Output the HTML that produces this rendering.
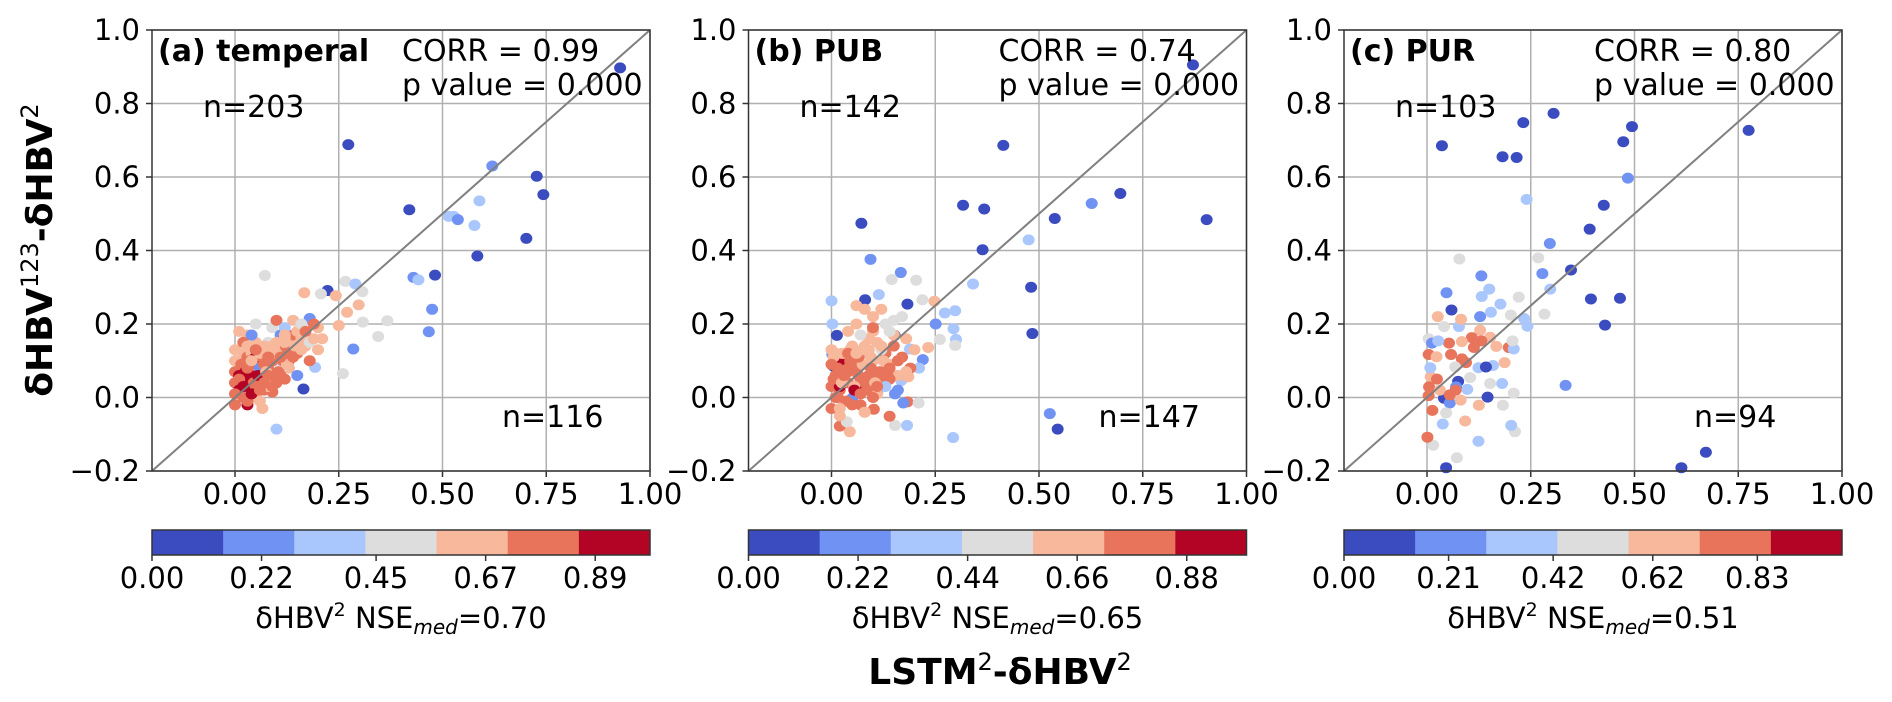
<!DOCTYPE html>
<html><head><meta charset="utf-8">
<style>
html,body{margin:0;padding:0;background:#fff;}
svg{display:block;font-family:"DejaVu Sans","Liberation Sans",sans-serif;}
</style></head>
<body>
<svg id="fig" width="1892" height="702" viewBox="0 0 1892 702" xmlns="http://www.w3.org/2000/svg">
<text transform="translate(52,250) rotate(-90)" text-anchor="middle" font-weight="bold" font-size="36">δHBV<tspan font-weight="normal" font-size="24" dy="-14">123</tspan><tspan dy="14">-δHBV</tspan><tspan font-weight="normal" font-size="24" dy="-14">2</tspan></text>
<text x="1000" y="684" text-anchor="middle" font-weight="bold" font-size="36">LSTM<tspan font-weight="normal" font-size="24" dy="-14">2</tspan><tspan dy="14">-δHBV</tspan><tspan font-weight="normal" font-size="24" dy="-14">2</tspan></text>
</svg>
<script>
// ---- data ----
// NSE classes: dark-blue 0.07, mid-blue 0.2, light-blue 0.35, gray 0.5, salmon 0.65, coral 0.78, crimson 0.93
const xA=[0.273,0.62,0.727,0.743,0.42,0.515,0.527,0.537,0.589,0.577,0.702,0.584,0.43,0.442,0.482,0.475,0.467,0.285,0.165,0.345,0.367,0.308,0.26,0.072,0.223,0.266,0.29,0.307,0.207,0.167,0.243,0.298,0.27,0.18,0.25,0.193,0.928,0.1,0.0,0.03,0.066,0.09,
0.0,0.01,0.0,0.0,0.01,0.02,0.03,0.04,0.05,0.02,0.03,0.01,0.05,0.06,0.07,0.08,0.09,0.1,0.11,0.12,0.13,0.14,0.15,0.16,0.17,0.18,0.19,0.20,0.18,0.13,0.12,0.06,0.07,0.05,0.03,0.06,0.04,0.08,0.09,0.11,0.1,0.14,0.05,0.04,0.06,0.02,0.03,0.07,0.09,0.12,0.16,0.15,0.13,0.11,0.1,0.08,0.15,0.02,0.0,0.04,0.19,0.2,0.21,0.1,0.05,0.07,0.12,0.17,0.13,0.08,0.01,0.03,0.02,0.06,0.04,0.09,
0.015,0.025,0.035,0.045,0.055,0.065,0.075,0.085,0.095,0.105,0.115,0.125,0.135,0.145,0.01,0.02,0.03,0.04,0.05,0.06,0.07,0.08,0.09,0.1,0.11,0.12,0.02,0.04,0.06,0.08,0.1,0.12,0.14,0.16,0.0,0.03,0.05,0.07,0.09,0.11];
const yA=[0.688,0.63,0.602,0.552,0.511,0.493,0.493,0.484,0.535,0.468,0.433,0.385,0.327,0.32,0.333,0.24,0.179,0.132,0.023,0.166,0.209,0.205,0.065,0.332,0.291,0.316,0.309,0.288,0.282,0.285,0.277,0.252,0.232,0.215,0.196,0.082,0.897,-0.086,-0.02,-0.02,-0.03,0.015,
0.13,0.10,0.07,0.04,0.02,0.05,0.03,0.06,0.09,0.12,0.17,0.18,0.15,0.13,0.11,0.08,0.06,0.1,0.13,0.12,0.15,0.17,0.18,0.16,0.14,0.15,0.16,0.19,0.1,0.08,0.05,0.04,0.02,0.0,-0.01,-0.01,0.02,0.15,0.19,0.17,0.21,0.21,0.2,0.17,0.08,0.08,0.11,0.06,0.12,0.19,0.2,0.12,0.1,0.08,0.04,0.03,0.06,0.15,0.1,0.12,0.2,0.13,0.16,0.14,0.11,0.09,0.16,0.18,0.13,0.12,0.06,0.08,0.0,0.05,0.1,0.03,
0.09,0.07,0.1,0.04,0.06,0.11,0.07,0.1,0.13,0.07,0.1,0.09,0.12,0.14,0.05,0.03,0.08,0.1,0.03,0.12,0.14,0.06,0.1,0.12,0.06,0.15,0.0,0.01,0.02,0.11,0.15,0.17,0.11,0.13,0.01,0.14,0.13,0.04,0.14,0.11];
const cA=[0.07,0.2,0.07,0.07,0.07,0.35,0.35,0.2,0.35,0.35,0.07,0.07,0.2,0.35,0.07,0.2,0.2,0.2,0.07,0.5,0.5,0.5,0.5,0.5,0.07,0.5,0.35,0.5,0.5,0.65,0.65,0.65,0.65,0.2,0.65,0.35,0.07,0.35,0.78,0.93,0.65,0.78,
0.65,0.78,0.78,0.78,0.93,0.93,0.93,0.93,0.78,0.65,0.65,0.65,0.65,0.78,0.78,0.78,0.78,0.78,0.65,0.78,0.65,0.78,0.65,0.65,0.65,0.5,0.65,0.65,0.78,0.65,0.78,0.78,0.78,0.65,0.78,0.65,0.93,0.5,0.5,0.2,0.78,0.65,0.5,0.2,0.2,0.78,0.78,0.07,0.65,0.35,0.5,0.78,0.78,0.5,0.78,0.65,0.2,0.78,0.65,0.65,0.78,0.65,0.65,0.78,0.93,0.78,0.65,0.78,0.78,0.65,0.93,0.93,0.78,0.65,0.93,0.78,
0.78,0.93,0.78,0.78,0.93,0.78,0.65,0.78,0.65,0.78,0.78,0.65,0.78,0.65,0.78,0.93,0.78,0.65,0.78,0.65,0.65,0.78,0.78,0.65,0.78,0.65,0.78,0.93,0.78,0.78,0.65,0.65,0.78,0.65,0.78,0.65,0.78,0.78,0.65,0.78];

const xB=[0.871,0.414,0.696,0.627,0.317,0.368,0.538,0.904,0.072,0.475,0.364,0.094,0.341,0.481,0.484,0.526,0.545,0.293,0.167,0.204,0.145,0.0,0.081,0.114,0.183,0.219,0.248,0.273,0.298,0.251,0.294,0.3,0.298,0.22,0.211,0.183,0.21,0.182,0.153,0.14,0.102,0.044,0.02,0.037,0.173,0.153,0.11,0.05,0.013,0.002,0.004,0.002,0.152,0.261,0.233,0.189,0.168,0.185,0.097,
0.0,0.01,0.02,0.03,0.04,0.05,0.06,0.07,0.08,0.09,0.1,0.11,0.12,0.13,0.14,0.15,0.16,0.17,0.18,0.19,0.2,0.0,0.02,0.04,0.06,0.08,0.1,0.12,0.14,0.16,0.18,0.01,0.03,0.05,0.07,0.09,0.11,0.13,0.15,0.17,0.0,0.02,0.04,0.06,0.08,0.1,0.12,0.14,0.03,0.05,0.07,0.09,0.11,0.06,0.08,0.04,0.12,0.15,0.1,0.13,0.02,0.07,0.16,
0.005,0.015,0.025,0.035,0.045,0.055,0.065,0.075,0.085,0.095,0.105,0.115,0.125,0.135,0.005,0.015,0.025,0.035,0.045,0.055,0.065,0.075,0.085,0.095,0.0,0.01,0.02,0.03,0.04,0.05,0.06,0.07,0.08,0.09,0.1,0.11,0.12,0.14,0.16,0.18];
const yB=[0.905,0.686,0.555,0.528,0.523,0.513,0.487,0.484,0.474,0.429,0.402,0.376,0.309,0.3,0.174,-0.044,-0.086,-0.109,0.34,0.319,0.321,0.263,0.266,0.28,0.254,0.266,0.262,0.23,0.236,0.2,0.187,0.158,0.142,0.103,0.08,-0.012,-0.015,-0.076,-0.076,-0.051,-0.032,-0.093,-0.078,-0.066,-0.015,0.01,0.013,-0.002,0.169,0.2,0.086,0.117,0.169,0.158,0.136,0.132,0.046,0.056,0.038,
0.13,0.06,0.02,0.1,0.04,0.14,0.08,0.03,0.12,0.06,0.1,0.15,0.07,0.12,0.09,0.14,0.06,0.11,0.16,0.08,0.13,0.03,0.1,0.07,0.02,0.14,0.18,0.04,0.05,0.1,0.06,0.0,0.12,0.09,-0.02,0.16,0.05,0.2,0.17,0.22,-0.03,-0.05,0.18,0.2,0.24,0.22,0.13,0.18,0.06,0.11,0.17,0.04,0.01,0.25,-0.04,0.08,0.24,0.21,0.19,0.03,0.03,0.05,0.02,
0.05,0.08,0.04,0.07,0.1,0.03,0.06,0.09,0.05,0.08,0.04,0.07,0.1,0.06,0.11,0.0,0.12,-0.01,0.13,0.02,0.11,0.13,0.02,0.11,0.09,0.12,-0.03,0.06,0.12,-0.02,0.12,0.01,-0.04,0.13,0.0,0.03,0.14,0.08,0.1,0.07];
const cB=[0.07,0.07,0.07,0.2,0.07,0.07,0.07,0.07,0.07,0.35,0.07,0.2,0.35,0.07,0.07,0.2,0.07,0.35,0.2,0.5,0.5,0.35,0.07,0.35,0.07,0.5,0.65,0.35,0.35,0.2,0.35,0.35,0.5,0.2,0.35,0.78,0.5,0.35,0.5,0.78,0.78,0.65,0.78,0.5,0.2,0.2,0.07,0.2,0.07,0.35,0.07,0.2,0.07,0.5,0.65,0.35,0.35,0.65,0.65,
0.65,0.78,0.78,0.78,0.78,0.65,0.78,0.78,0.65,0.78,0.65,0.65,0.78,0.78,0.65,0.78,0.65,0.78,0.65,0.78,0.65,0.78,0.93,0.78,0.93,0.65,0.65,0.78,0.78,0.65,0.65,0.78,0.65,0.78,0.78,0.65,0.78,0.5,0.65,0.5,0.78,0.65,0.65,0.65,0.65,0.65,0.5,0.5,0.78,0.78,0.5,0.78,0.65,0.65,0.65,0.78,0.65,0.5,0.78,0.35,0.93,0.78,0.2,
0.78,0.78,0.65,0.78,0.78,0.65,0.78,0.65,0.78,0.78,0.65,0.78,0.65,0.78,0.65,0.78,0.65,0.78,0.65,0.93,0.78,0.65,0.78,0.65,0.78,0.65,0.65,0.78,0.78,0.78,0.65,0.78,0.65,0.65,0.78,0.78,0.65,0.78,0.78,0.65];

const xC=[0.305,0.232,0.494,0.775,0.036,0.473,0.182,0.216,0.484,0.24,0.426,0.392,0.296,0.347,0.278,0.078,0.268,0.131,0.15,0.132,0.047,0.059,0.128,0.154,0.177,0.221,0.297,0.283,0.202,0.234,0.242,0.395,0.465,0.429,0.334,0.672,0.613,0.046,0.072,0.015,0.001,0.124,0.212,0.203,0.092,0.125,0.183,0.209,0.146,0.181,0.097,0.041,0.055,0.038,0.046,0.013,0.004,0.075,0.07,0.152,0.159,0.124,0.142,0.187,0.197,0.209,0.206,0.128,0.152,0.108,0.084,0.053,0.026,0.041,0.077,0.082,0.004,0.012,0.004,0.023,0.058,0.084,0.068,0.009,0.024,0.005,0.031,0.104,0.094,0.113,0.027,0.008,0.167,0.131,0.069,0.055,0.081];
const yC=[0.773,0.748,0.737,0.727,0.685,0.696,0.655,0.653,0.597,0.539,0.523,0.458,0.419,0.347,0.337,0.377,0.38,0.331,0.295,0.275,0.285,0.238,0.22,0.232,0.254,0.273,0.295,0.227,0.224,0.215,0.194,0.268,0.27,0.197,0.033,-0.149,-0.191,-0.191,-0.164,-0.13,-0.108,-0.119,-0.093,-0.076,-0.064,-0.021,-0.021,0.012,0.001,0.038,0.022,-0.002,-0.015,-0.072,-0.042,-0.035,0.005,0.044,0.029,0.038,0.087,0.081,0.083,0.095,0.136,0.132,0.154,0.183,0.164,0.163,0.152,0.148,0.22,0.193,0.193,0.213,0.16,0.148,0.117,0.111,0.117,0.105,0.083,0.056,0.05,0.029,0.02,0.054,0.095,0.136,0.154,0.081,0.139,0.154,0.02,0.007,-0.007];
const cC=[0.07,0.07,0.07,0.07,0.07,0.07,0.07,0.07,0.2,0.35,0.07,0.07,0.2,0.07,0.2,0.5,0.5,0.2,0.35,0.35,0.2,0.07,0.2,0.35,0.35,0.5,0.35,0.5,0.5,0.35,0.35,0.07,0.07,0.07,0.2,0.07,0.07,0.07,0.5,0.5,0.78,0.35,0.5,0.35,0.65,0.65,0.5,0.5,0.07,0.35,0.35,0.07,0.2,0.35,0.5,0.78,0.78,0.07,0.2,0.5,0.35,0.35,0.07,0.65,0.78,0.35,0.5,0.65,0.65,0.78,0.65,0.78,0.65,0.5,0.35,0.65,0.5,0.2,0.78,0.65,0.78,0.78,0.5,0.65,0.78,0.78,0.65,0.5,0.78,0.78,0.35,0.35,0.65,0.78,0.78,0.78,0.65];

const xTicks=[0,0.25,0.5,0.75,1.0];
const xTickLabels=["0.00","0.25","0.50","0.75","1.00"];
const yTicks=[-0.2,0,0.2,0.4,0.6,0.8,1.0];
const yTickLabels=["\u22120.2","0.0","0.2","0.4","0.6","0.8","1.0"];
const cbTicksA=["0.00","0.22","0.45","0.67","0.89"];
const cbTicksB=["0.00","0.22","0.44","0.66","0.88"];
const cbTicksC=["0.00","0.21","0.42","0.62","0.83"];
const titles=["(a) temperal","(b) PUB","(c) PUR"];
const corrs=["0.99","0.74","0.80"];
const nUp=["n=203","n=142","n=103"];
const nDown=["n=116","n=147","n=94"];
const nseMed=["0.70","0.65","0.51"];

const palette=["#3b4cc0","#6f92f3","#aac7fd","#dddddd","#f7b89c","#e7745b","#b40426"];
const NS="http://www.w3.org/2000/svg";
const svg=document.getElementById('fig');
function mk(tag,attrs,parent){const e=document.createElementNS(NS,tag);for(const k in attrs)e.setAttribute(k,attrs[k]);(parent||svg).appendChild(e);return e;}
function col(v){return palette[Math.min(6,Math.floor(v*7))];}

const lefts=[152,748.5,1344];
const W=498, TOP=30, BOT=471;
const panels=[[xA,yA,cA,cbTicksA],[xB,yB,cB,cbTicksB],[xC,yC,cC,cbTicksC]];

panels.forEach((p,i)=>{
  const L=lefts[i];
  const sx=v=>L+(v+0.2)/1.2*W;
  const sy=v=>BOT-(v+0.2)/1.2*(BOT-TOP);
  const g=mk('g',{});
  
  
  xTicks.forEach((t,k)=>{
    const gl=mk('line',{x1:sx(t),x2:sx(t),y1:TOP,y2:BOT,stroke:'#b0b0b0','stroke-width':1.5},g);
    
    
    mk('line',{x1:sx(t),x2:sx(t),y1:BOT,y2:BOT+6,stroke:'#333','stroke-width':1.5},g);
    const tl=mk('text',{x:sx(t),y:504,'text-anchor':'middle','font-size':29},g);
    tl.textContent=xTickLabels[k];
    
    
  });
  yTicks.forEach((t,k)=>{
    const gl=mk('line',{x1:L,x2:L+W,y1:sy(t),y2:sy(t),stroke:'#b0b0b0','stroke-width':1.5},g);
    
    
    mk('line',{x1:L-6,x2:L,y1:sy(t),y2:sy(t),stroke:'#333','stroke-width':1.5},g);
    const tl=mk('text',{x:L-12,y:sy(t)+10,'text-anchor':'end','font-size':29},g);
    tl.textContent=yTickLabels[k];
    
    
  });
  p[0].forEach((xv,j)=>{
    const c=mk('ellipse',{cx:sx(xv),cy:sy(p[1][j]),rx:6,ry:5.5,fill:col(p[2][j])},g);
    
    
  });
  const d=mk('line',{x1:sx(-0.2),y1:sy(-0.2),x2:sx(1),y2:sy(1),stroke:'#808080','stroke-width':2},g);
  
  
  const fr=mk('rect',{x:L,y:TOP,width:W,height:BOT-TOP,fill:'none',stroke:'#333','stroke-width':1.5},g);
  
  
  const t1=mk('text',{x:L+6,y:61,'font-size':30,'font-weight':'bold'},g);
  t1.textContent=titles[i];
  
  
  const t2=mk('text',{x:L+250,y:61,'font-size':30},g);
  t2.textContent='CORR = '+corrs[i];
  
  
  const t3=mk('text',{x:L+250,y:95,'font-size':30},g);
  t3.textContent='p value = 0.000';
  
  
  const t4=mk('text',{x:L+51,y:117,'font-size':30},g);
  t4.textContent=nUp[i];
  
  
  const t5=mk('text',{x:L+350,y:427,'font-size':30},g);
  t5.textContent=nDown[i];
  
  
  const cb=mk('g',{},g);
  
  
  palette.forEach((c,k)=>{mk('rect',{x:L+k*W/7,y:530,width:W/7+0.5,height:25,fill:c},cb);});
  mk('rect',{x:L,y:530,width:W,height:25,fill:'none',stroke:'#333','stroke-width':1.5},cb);
  p[3].forEach(lbl=>{
    const xx=L+parseFloat(lbl)*W;
    mk('line',{x1:xx,x2:xx,y1:555,y2:561,stroke:'#333','stroke-width':1.5},cb);
    const tl=mk('text',{x:xx,y:588,'text-anchor':'middle','font-size':29},cb);
    tl.textContent=lbl;
    
    
  });
  const cl=mk('text',{x:L+W/2,y:628,'text-anchor':'middle','font-size':29},g);
  cl.innerHTML='δHBV<tspan font-size="19" dy="-12">2</tspan><tspan dy="12"> NSE</tspan><tspan font-style="italic" font-size="20" dy="6">med</tspan><tspan dy="-6">='+nseMed[i]+'</tspan>';
  
  
});
</script>
</body></html>
